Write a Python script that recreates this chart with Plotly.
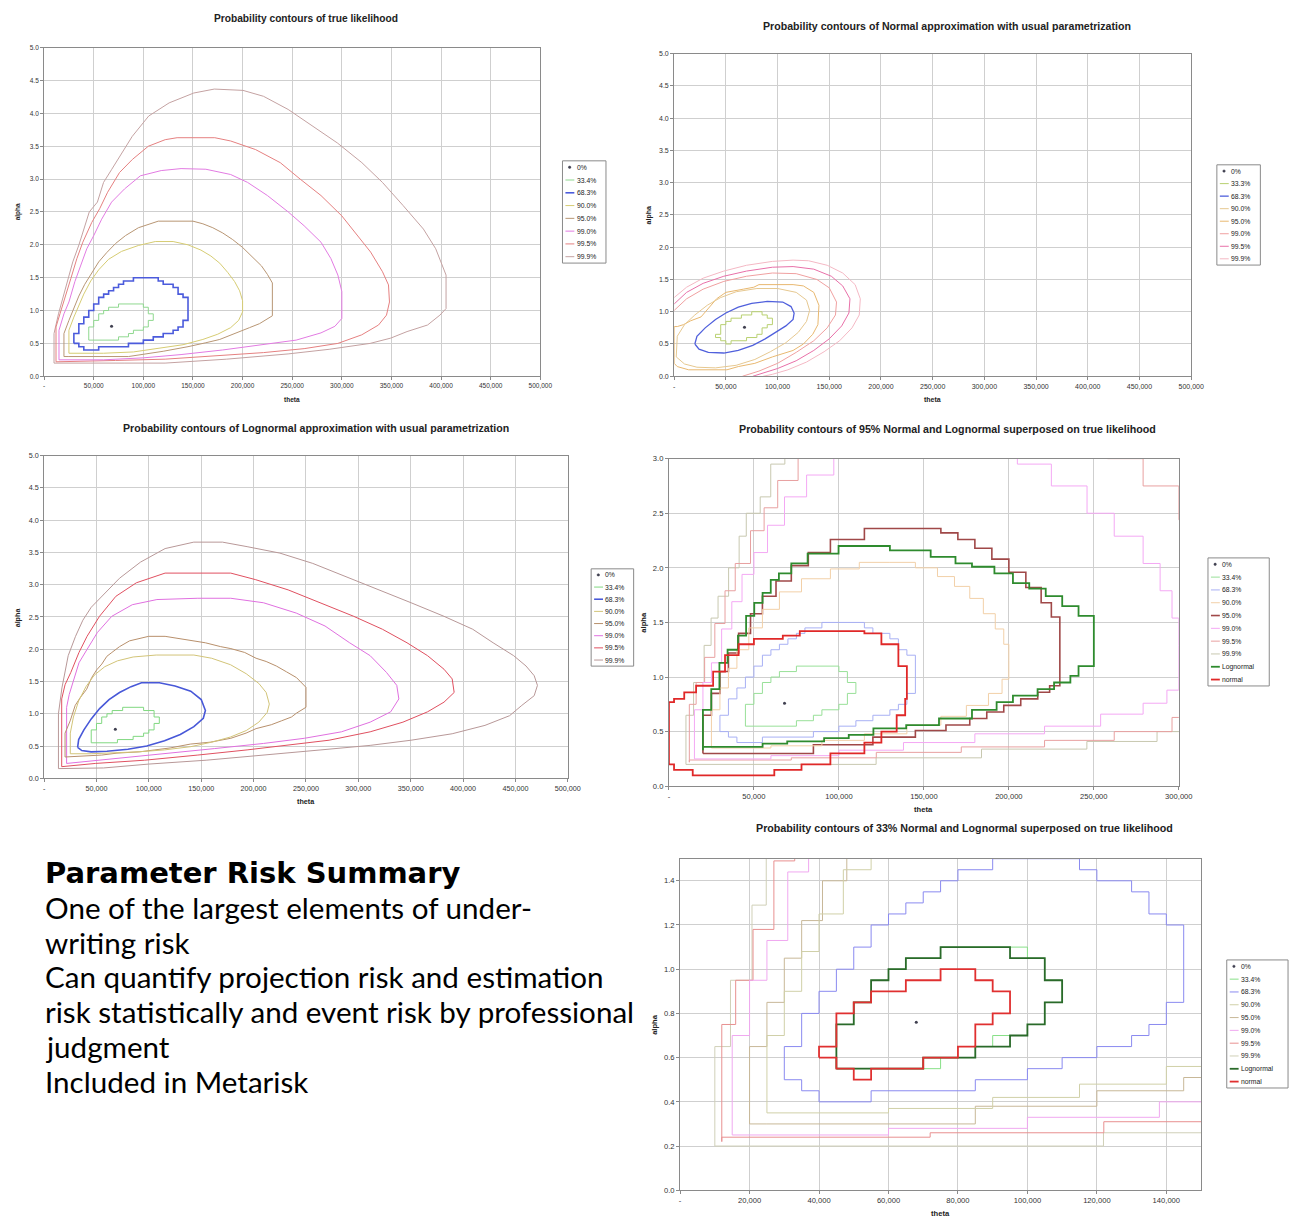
import plotly.graph_objects as go

W, H = 1306, 1228

# ---------------------------------------------------------------- data
LEVELS_TRUE = ["0%", "33.4%", "68.3%", "90.0%", "95.0%", "99.0%", "99.5%", "99.9%"]
LEVELS_NORM = ["0%", "33.3%", "68.3%", "90.0%", "95.0%", "99.0%", "99.5%", "99.9%"]
LEVELS_LOGN = ["0%", "33.4%", "68.3%", "90.0%", "95.0%", "99.0%", "99.5%", "99.9%"]
EXTRA_SERIES = ["Lognormal", "normal"]

MODE_THETA_K = [68]
MODE_ALPHA = [0.76]

# true likelihood contours (theta in thousands, alpha)
TRUE_334_THETA_K = [45, 45, 50, 50, 55, 55, 60, 60, 65, 65, 75, 75, 100, 100, 105, 105, 110, 110, 105, 105, 100, 100, 90, 90, 85, 85, 75, 75, 45]
TRUE_334_ALPHA = [0.55, 0.75, 0.75, 0.85, 0.85, 0.95, 0.95, 1.00, 1.00, 1.05, 1.05, 1.10, 1.10, 1.05, 1.05, 0.95, 0.95, 0.85, 0.85, 0.75, 0.75, 0.70, 0.70, 0.65, 0.65, 0.60, 0.60, 0.55, 0.55]

TRUE_683_THETA_K = [30, 30, 35, 35, 40, 40, 45, 45, 50, 50, 55, 55, 60, 60, 65, 65, 70, 70, 75, 75, 80, 80, 90, 90, 115, 115, 120, 120, 130, 130, 135, 135, 140, 140, 145, 145, 140, 140, 135, 135, 130, 130, 120, 120, 110, 110, 100, 100, 85, 85, 55, 55, 40, 40, 35, 35, 30]
TRUE_683_ALPHA = [0.50, 0.65, 0.65, 0.80, 0.80, 0.90, 0.90, 1.00, 1.00, 1.10, 1.10, 1.20, 1.20, 1.25, 1.25, 1.30, 1.30, 1.35, 1.35, 1.40, 1.40, 1.45, 1.45, 1.50, 1.50, 1.45, 1.45, 1.40, 1.40, 1.35, 1.35, 1.25, 1.25, 1.20, 1.20, 0.85, 0.85, 0.75, 0.75, 0.70, 0.70, 0.65, 0.65, 0.60, 0.60, 0.55, 0.55, 0.50, 0.50, 0.45, 0.45, 0.40, 0.40, 0.45, 0.45, 0.50, 0.50]

TRUE_90_THETA_K = [25, 25, 30, 35, 40, 47, 55, 65, 78, 95, 112, 130, 145, 158, 168, 177, 185, 192, 197, 200, 200, 196, 188, 175, 160, 140, 115, 90, 60, 25]
TRUE_90_ALPHA = [0.35, 0.70, 0.90, 1.08, 1.25, 1.45, 1.62, 1.78, 1.90, 1.99, 2.05, 2.05, 2.00, 1.92, 1.83, 1.72, 1.58, 1.44, 1.30, 1.15, 0.98, 0.85, 0.74, 0.64, 0.56, 0.48, 0.42, 0.37, 0.35, 0.35]

TRUE_95_THETA_K = [20, 20, 25, 30, 35, 41, 48, 55, 63, 72, 82, 95, 115, 150, 160, 170, 180, 190, 200, 210, 219, 225, 230, 230, 224, 217, 207, 197, 187, 177, 163, 145, 120, 85, 25, 20]
TRUE_95_ALPHA = [0.30, 0.65, 0.85, 1.05, 1.22, 1.40, 1.58, 1.74, 1.88, 2.02, 2.14, 2.26, 2.36, 2.36, 2.32, 2.26, 2.18, 2.08, 1.96, 1.82, 1.68, 1.55, 1.42, 0.92, 0.86, 0.80, 0.74, 0.68, 0.62, 0.56, 0.51, 0.45, 0.38, 0.30, 0.30, 0.30]

TRUE_99_THETA_K = [15, 15, 20, 25, 31, 37, 43, 50, 58, 68, 81, 97, 118, 138, 163, 188, 205, 225, 246, 262, 279, 289, 296, 300, 300, 293, 279, 254, 221, 180, 138, 100, 60, 15]
TRUE_99_ALPHA = [0.25, 0.70, 0.95, 1.13, 1.44, 1.69, 1.94, 2.14, 2.39, 2.65, 2.85, 3.05, 3.13, 3.16, 3.15, 3.07, 2.95, 2.75, 2.50, 2.29, 2.04, 1.79, 1.54, 1.29, 0.88, 0.76, 0.66, 0.55, 0.48, 0.40, 0.33, 0.28, 0.25, 0.25]

TRUE_995_THETA_K = [12, 12, 16, 21, 27, 33, 39, 48, 56, 64, 76, 89, 105, 122, 134, 172, 188, 213, 238, 258, 279, 300, 316, 329, 341, 347, 348, 345, 337, 320, 296, 262, 221, 172, 122, 72, 12]
TRUE_995_ALPHA = [0.22, 0.75, 0.95, 1.18, 1.49, 1.79, 2.04, 2.34, 2.55, 2.80, 3.10, 3.30, 3.50, 3.60, 3.63, 3.63, 3.58, 3.45, 3.25, 3.00, 2.75, 2.44, 2.14, 1.89, 1.59, 1.39, 1.13, 0.93, 0.78, 0.63, 0.50, 0.42, 0.36, 0.31, 0.26, 0.24, 0.22]

TRUE_999_THETA_K = [10, 10, 14.5, 20.7, 24.8, 28.9, 35.1, 41.3, 45.5, 53.7, 59.9, 68.2, 76.4, 88.8, 105.4, 126, 150.8, 171.5, 200.4, 221.1, 245.9, 270.7, 295.5, 320.2, 340.9, 361.6, 382.2, 394.6, 402.9, 405, 405, 398.8, 386.4, 365.7, 349.2, 328.5, 287.2, 245.9, 183.9, 121.9, 80.6, 10]
TRUE_999_ALPHA = [0.20, 0.65, 0.95, 1.29, 1.54, 1.74, 2.00, 2.29, 2.50, 2.65, 2.95, 3.15, 3.35, 3.65, 3.96, 4.16, 4.31, 4.37, 4.35, 4.26, 4.06, 3.80, 3.55, 3.25, 2.95, 2.60, 2.24, 1.94, 1.64, 1.54, 1.03, 0.93, 0.78, 0.68, 0.58, 0.50, 0.41, 0.34, 0.26, 0.20, 0.20, 0.20]

# Normal approximation contours
NORM_333_THETA_K = [40, 40, 45, 45, 50, 50, 55, 55, 65, 65, 75, 75, 85, 85, 90, 90, 95, 95, 90, 90, 85, 85, 80, 80, 70, 70, 55, 55, 50, 50, 45, 45, 40]
NORM_333_ALPHA = [0.60, 0.65, 0.65, 0.80, 0.80, 0.85, 0.85, 0.90, 0.90, 0.95, 0.95, 1.00, 1.00, 0.95, 0.95, 0.90, 0.90, 0.80, 0.80, 0.75, 0.75, 0.65, 0.65, 0.60, 0.60, 0.55, 0.55, 0.50, 0.50, 0.55, 0.55, 0.60, 0.60]

NORM_683_THETA_K = [20, 22, 30, 40, 50, 62, 75, 90, 105, 113, 116, 115, 108, 98, 88, 76, 62, 48, 33, 24, 20]
NORM_683_ALPHA = [0.50, 0.62, 0.75, 0.88, 0.98, 1.07, 1.13, 1.16, 1.15, 1.08, 0.98, 0.88, 0.78, 0.68, 0.58, 0.48, 0.40, 0.36, 0.37, 0.42, 0.50]

NORM_90_THETA_K = [2, 3, 10, 20, 32, 45, 60, 80, 100, 118, 128, 131, 128, 120, 108, 93, 78, 60, 40, 22, 10, 2]
NORM_90_ALPHA = [0.30, 0.62, 0.80, 0.95, 1.10, 1.22, 1.31, 1.36, 1.36, 1.30, 1.18, 1.02, 0.85, 0.68, 0.52, 0.38, 0.26, 0.17, 0.13, 0.14, 0.19, 0.30]

NORM_95_THETA_K = [0, 0, 3, 14, 51, 62, 78, 95, 115, 125, 134, 139, 140, 135, 125, 115, 82, 77, 67, 50, 41, 33, 26, 16, 9, 3, 0]
NORM_95_ALPHA = [0.77, 0.20, 0.15, 0.10, 0.10, 0.15, 0.20, 0.30, 0.40, 0.50, 0.65, 0.80, 1.10, 1.30, 1.40, 1.42, 1.42, 1.38, 1.35, 1.30, 1.20, 1.05, 0.92, 0.86, 0.80, 0.77, 0.77]

NORM_99_THETA_K = [0, 12, 28, 48, 70, 95, 118, 138, 150, 157, 156, 148, 135, 118, 100, 82, 66]
NORM_99_ALPHA = [1.02, 1.20, 1.35, 1.47, 1.55, 1.60, 1.59, 1.50, 1.37, 1.15, 0.95, 0.75, 0.55, 0.37, 0.20, 0.08, 0.00]

NORM_995_THETA_K = [0, 12, 28, 48, 70, 95, 115, 135, 152, 163, 170, 169, 162, 150, 135, 118, 100, 85, 76]
NORM_995_ALPHA = [1.12, 1.30, 1.44, 1.55, 1.63, 1.69, 1.70, 1.66, 1.55, 1.40, 1.20, 0.98, 0.78, 0.58, 0.40, 0.24, 0.12, 0.04, 0.00]

NORM_999_THETA_K = [0, 12, 28, 48, 70, 95, 115, 130, 148, 163, 175, 180, 179, 172, 160, 145, 128, 110, 95, 86]
NORM_999_ALPHA = [1.22, 1.38, 1.52, 1.63, 1.72, 1.78, 1.80, 1.79, 1.72, 1.60, 1.42, 1.20, 0.95, 0.75, 0.55, 0.38, 0.22, 0.10, 0.03, 0.00]

# Lognormal approximation contours
LOGN_334_THETA_K = [45, 45, 50, 50, 55, 55, 60, 60, 65, 65, 75, 75, 95, 95, 105, 105, 110, 110, 105, 105, 100, 100, 95, 95, 85, 85, 70, 70, 45]
LOGN_334_ALPHA = [0.55, 0.75, 0.75, 0.85, 0.85, 0.95, 0.95, 1.00, 1.00, 1.05, 1.05, 1.10, 1.10, 1.05, 1.05, 0.95, 0.95, 0.85, 0.85, 0.75, 0.75, 0.70, 0.70, 0.65, 0.65, 0.60, 0.60, 0.55, 0.55]

LOGN_683_THETA_K = [32, 33, 38, 45, 53, 62, 72, 83, 93, 110, 125, 140, 150, 154, 152, 143, 130, 115, 98, 80, 60, 45, 36, 32]
LOGN_683_ALPHA = [0.48, 0.60, 0.75, 0.92, 1.08, 1.22, 1.33, 1.42, 1.48, 1.48, 1.43, 1.35, 1.22, 1.05, 0.93, 0.80, 0.68, 0.58, 0.50, 0.45, 0.42, 0.41, 0.43, 0.48]

LOGN_90_THETA_K = [25, 25, 28, 33, 40, 48, 58, 70, 85, 107, 143, 160, 178, 193, 205, 212, 215, 213, 205, 193, 178, 160, 140, 115, 90, 65, 45, 25]
LOGN_90_ALPHA = [0.38, 0.70, 0.95, 1.20, 1.42, 1.60, 1.73, 1.82, 1.88, 1.91, 1.91, 1.86, 1.76, 1.62, 1.47, 1.33, 1.15, 1.02, 0.87, 0.74, 0.64, 0.56, 0.49, 0.44, 0.41, 0.39, 0.38, 0.38]

LOGN_95_THETA_K = [20, 20, 24.9, 29.7, 34.5, 40.6, 45.4, 50.2, 55.1, 59.9, 64.7, 72, 81.6, 99.8, 115.5, 130, 154, 168.6, 178.3, 191.5, 202.4, 212, 221.7, 231.4, 241, 250, 250, 241, 236.2, 226.6, 216.9, 202.4, 192.8, 178.3, 158.9, 139.6, 120.3, 105.8, 91.3, 69.6, 55.1, 20]
LOGN_95_ALPHA = [0.33, 0.70, 0.89, 1.13, 1.25, 1.38, 1.56, 1.68, 1.77, 1.89, 1.95, 2.04, 2.13, 2.20, 2.20, 2.16, 2.10, 2.04, 2.01, 1.95, 1.86, 1.81, 1.74, 1.65, 1.56, 1.41, 1.10, 1.01, 0.95, 0.89, 0.83, 0.77, 0.70, 0.62, 0.56, 0.53, 0.47, 0.44, 0.41, 0.39, 0.36, 0.33]

LOGN_99_THETA_K = [21.5, 21.5, 24, 27.4, 33.3, 41.1, 50.9, 64.6, 84.2, 107.7, 146.8, 178.2, 209.5, 240.8, 268.2, 291.7, 311.3, 326.9, 336.7, 338.7, 330.9, 311.3, 283.9, 248.6, 209.5, 162.5, 115.5, 68.5, 21.5]
LOGN_99_ALPHA = [0.23, 1.10, 1.30, 1.49, 1.79, 2.00, 2.26, 2.51, 2.69, 2.77, 2.79, 2.79, 2.72, 2.56, 2.36, 2.10, 1.90, 1.64, 1.44, 1.23, 1.03, 0.87, 0.72, 0.62, 0.54, 0.46, 0.38, 0.31, 0.23]

LOGN_995_THETA_K = [16.8, 16.8, 20, 25.5, 33.3, 41, 52.9, 68.5, 88.1, 107.7, 115.5, 178.2, 201.6, 233, 264.3, 295.6, 323, 346.5, 366.1, 381.8, 389.6, 391.5, 381.8, 366.1, 342.6, 311.3, 272.1, 233, 193.8, 146.8, 95.9, 48.9, 16.8]
LOGN_995_ALPHA = [0.18, 1.23, 1.45, 1.64, 1.95, 2.20, 2.51, 2.82, 3.03, 3.13, 3.18, 3.18, 3.08, 2.92, 2.72, 2.51, 2.31, 2.10, 1.90, 1.69, 1.54, 1.33, 1.18, 1.03, 0.87, 0.72, 0.59, 0.51, 0.44, 0.36, 0.28, 0.23, 0.18]

LOGN_999_THETA_K = [13.7, 13.7, 17, 23, 30, 37, 45, 57, 72, 92, 115.5, 142.9, 170.3, 193.8, 225.1, 256.5, 287.8, 319.1, 350.4, 381.8, 409.2, 428.7, 448.3, 460.1, 467.9, 471, 467.9, 456.1, 444.4, 420.9, 389.6, 350.4, 311.3, 264.3, 209.5, 154.7, 99.8, 56.8, 13.7]
LOGN_999_ALPHA = [0.15, 1.00, 1.40, 1.90, 2.20, 2.45, 2.65, 2.85, 3.10, 3.35, 3.56, 3.66, 3.66, 3.59, 3.49, 3.33, 3.13, 2.92, 2.72, 2.51, 2.31, 2.10, 1.90, 1.74, 1.59, 1.44, 1.28, 1.13, 0.97, 0.82, 0.69, 0.59, 0.51, 0.44, 0.36, 0.28, 0.22, 0.16, 0.15]

# tick labels
X_TICKS_500K = [0, 50000, 100000, 150000, 200000, 250000, 300000, 350000, 400000, 450000, 500000]
X_TICKS_300K = [0, 50000, 100000, 150000, 200000, 250000, 300000]
X_TICKS_150K = [0, 20000, 40000, 60000, 80000, 100000, 120000, 140000]
Y_TICKS_5 = [0.0, 0.5, 1.0, 1.5, 2.0, 2.5, 3.0, 3.5, 4.0, 4.5, 5.0]
Y_TICKS_3 = [0.0, 0.5, 1.0, 1.5, 2.0, 2.5, 3.0]
Y_TICKS_15 = [0.0, 0.2, 0.4, 0.6, 0.8, 1.0, 1.2, 1.4]

TITLES = [
    "Probability contours of true likelihood",
    "Probability contours of Normal approximation with usual parametrization",
    "Probability contours of Lognormal approximation with usual parametrization",
    "Probability contours of 95% Normal and Lognormal superposed on true likelihood",
    "Probability contours of 33% Normal and Lognormal superposed on true likelihood",
]
SUMMARY_HEAD = "Parameter Risk Summary"
SUMMARY_LINES = [
    "One of the largest elements of under-",
    "writing risk",
    "Can quantify projection risk and estimation",
    "risk statistically and event risk by professional",
    "judgment",
    "Included in Metarisk",
]

TRUE_SETS = [(TRUE_334_THETA_K, TRUE_334_ALPHA), (TRUE_683_THETA_K, TRUE_683_ALPHA),
             (TRUE_90_THETA_K, TRUE_90_ALPHA), (TRUE_95_THETA_K, TRUE_95_ALPHA),
             (TRUE_99_THETA_K, TRUE_99_ALPHA), (TRUE_995_THETA_K, TRUE_995_ALPHA),
             (TRUE_999_THETA_K, TRUE_999_ALPHA)]
NORM_SETS = [(NORM_333_THETA_K, NORM_333_ALPHA), (NORM_683_THETA_K, NORM_683_ALPHA),
             (NORM_90_THETA_K, NORM_90_ALPHA), (NORM_95_THETA_K, NORM_95_ALPHA),
             (NORM_99_THETA_K, NORM_99_ALPHA), (NORM_995_THETA_K, NORM_995_ALPHA),
             (NORM_999_THETA_K, NORM_999_ALPHA)]
LOGN_SETS = [(LOGN_334_THETA_K, LOGN_334_ALPHA), (LOGN_683_THETA_K, LOGN_683_ALPHA),
             (LOGN_90_THETA_K, LOGN_90_ALPHA), (LOGN_95_THETA_K, LOGN_95_ALPHA),
             (LOGN_99_THETA_K, LOGN_99_ALPHA), (LOGN_995_THETA_K, LOGN_995_ALPHA),
             (LOGN_999_THETA_K, LOGN_999_ALPHA)]

# ---------------------------------------------------------------- styles
COL_P1 = ["#8fd88f", "#4b5bdc", "#d6cc73", "#b89674", "#e27be2", "#e58080", "#c4a2a2"]
COL_P2 = ["#b8d070", "#5060dc", "#e6c890", "#e8b870", "#f0a0a0", "#e870a8", "#f4b8c4"]
COL_P3 = ["#80d880", "#4858d8", "#d2c478", "#b8906c", "#e070e0", "#e05060", "#b89898"]
COL_P4 = ["#98e098", "#a8b0f4", "#f2d0a8", "#a04848", "#f4a8f4", "#e8a0a0", "#c8c8b0"]
COL_P5 = ["#88e088", "#8a8af0", "#d0d0a8", "#c8b898", "#f0a8f0", "#e89090", "#d0d0b8"]
WID_P1 = [1, 1.6, 1, 1, 1, 1, 1]
WID_P2 = [1, 1.3, 1, 1, 1, 1, 1]
WID_P3 = [1, 1.6, 1, 1, 1, 1, 1]
WID_P4 = [1, 1, 1, 1.6, 1, 1, 1]
WID_P5 = [1, 1, 1, 1, 1, 1, 1]
COL_LOGN_HL = ["#2e8b2e", "#2a6a2a"]
COL_NORM_HL = ["#e02828", "#e03030"]
MODE_COL = "#404050"

FONT = "Liberation Sans, Arial, sans-serif"
GRID = "#cfcfcf"
AXLINE = "#8a8a8a"

# panel geometry in page pixels
PANELS = {
    1: dict(px=(43.6, 545.6), py=(44, 375), xr=(0, 500000), yr=(0, 5), xt=X_TICKS_500K, yt=Y_TICKS_5, fs=6.5),
    2: dict(px=(681, 1204), py=(50, 375), xr=(0, 500000), yr=(0, 5), xt=X_TICKS_500K, yt=Y_TICKS_5, fs=7),
    3: dict(px=(43.6, 573.4), py=(455, 780), xr=(0, 500000), yr=(0, 5), xt=X_TICKS_500K, yt=Y_TICKS_5, fs=7.2),
    4: dict(px=(675.7, 1191.5), py=(458, 788), xr=(0, 300000), yr=(0, 3), xt=X_TICKS_300K, yt=Y_TICKS_3, fs=7.6),
    5: dict(px=(687, 1214), py=(861, 1195), xr=(0, 150000), yr=(0, 1.5), xt=X_TICKS_150K, yt=Y_TICKS_15, fs=7.6),
}

fig = go.Figure()


def fx(x):
    return x / W


def fy(y):
    return 1 - y / H


def axis_names(i):
    return ("x" if i == 1 else f"x{i}"), ("y" if i == 1 else f"y{i}")


for i, p in PANELS.items():
    xn, yn = axis_names(i)
    xa = "xaxis" if i == 1 else f"xaxis{i}"
    ya = "yaxis" if i == 1 else f"yaxis{i}"
    tickfont = dict(family=FONT, size=p["fs"], color="#333333")
    fig.update_layout(**{
        xa: dict(domain=[fx(p["px"][0]), fx(p["px"][1])], range=list(p["xr"]), anchor=yn,
                 tickvals=p["xt"], ticktext=["-" if v == 0 else f"{v:,}" for v in p["xt"]],
                 showgrid=True, gridcolor=GRID, gridwidth=1, zeroline=False,
                 showline=True, linecolor=AXLINE, linewidth=1, mirror=True,
                 ticks="outside", ticklen=3, tickcolor=AXLINE, tickfont=tickfont, fixedrange=True),
        ya: dict(domain=[fy(p["py"][1]), fy(p["py"][0])], range=list(p["yr"]), anchor=xn,
                 tickvals=p["yt"], ticktext=[f"{v:.1f}" for v in p["yt"]],
                 showgrid=True, gridcolor=GRID, gridwidth=1, zeroline=False,
                 showline=True, linecolor=AXLINE, linewidth=1, mirror=True,
                 ticks="outside", ticklen=3, tickcolor=AXLINE, tickfont=tickfont, fixedrange=True),
    })


def add_contours(i, sets, colors, widths, shape):
    xn, yn = axis_names(i)
    for (th, al), c, w in zip(sets, colors, widths):
        fig.add_trace(go.Scatter(x=[t * 1000 for t in th], y=al, mode="lines",
                                 line=dict(color=c, width=w, shape=shape),
                                 xaxis=xn, yaxis=yn, showlegend=False, hoverinfo="skip"))


def add_mode(i):
    xn, yn = axis_names(i)
    fig.add_trace(go.Scatter(x=[t * 1000 for t in MODE_THETA_K], y=MODE_ALPHA, mode="markers",
                             marker=dict(color=MODE_COL, size=3, symbol="circle"),
                             xaxis=xn, yaxis=yn, showlegend=False, hoverinfo="skip"))


# panel 1: true likelihood
add_contours(1, TRUE_SETS[::-1], COL_P1[::-1], WID_P1[::-1], "linear")
add_mode(1)
# panel 2: normal approximation
add_contours(2, NORM_SETS[::-1], COL_P2[::-1], WID_P2[::-1], "linear")
add_mode(2)
# panel 3: lognormal approximation
add_contours(3, LOGN_SETS[::-1], COL_P3[::-1], WID_P3[::-1], "linear")
add_mode(3)
# panel 4: 95% normal / lognormal over true likelihood
add_contours(4, TRUE_SETS[::-1], COL_P4[::-1], WID_P4[::-1], "hv")
add_mode(4)
add_contours(4, [LOGN_SETS[3]], [COL_LOGN_HL[0]], [1.8], "hv")
add_contours(4, [NORM_SETS[3]], [COL_NORM_HL[0]], [1.8], "hv")
# panel 5: 33% normal / lognormal over true likelihood
add_contours(5, TRUE_SETS[::-1], COL_P5[::-1], WID_P5[::-1], "hv")
add_mode(5)
add_contours(5, [LOGN_SETS[0]], [COL_LOGN_HL[1]], [1.8], "hv")
add_contours(5, [NORM_SETS[0]], [COL_NORM_HL[1]], [1.8], "hv")

shapes = []
annotations = []


def text(x, y, s, size=7, bold=False, anchor="center", angle=0, family=FONT, color="#222222"):
    annotations.append(dict(x=fx(x), y=fy(y), xref="paper", yref="paper",
                            text=f"<b>{s}</b>" if bold else s, showarrow=False,
                            xanchor=anchor, yanchor="middle", textangle=angle, borderpad=0,
                            font=dict(family=family, size=size, color=color)))


def legend(x0, y0, x1, y1, labels, colors, widths):
    shapes.append(dict(type="rect", xref="paper", yref="paper", x0=fx(x0), x1=fx(x1), y0=fy(y1), y1=fy(y0),
                       line=dict(color="#8a8a8a", width=1), fillcolor="white", layer="above"))
    n = len(labels)
    h = (y1 - y0) / n
    for k, (lab, c, w) in enumerate(zip(labels, colors, widths)):
        yc = y0 + h * (k + 0.5)
        if k == 0:
            shapes.append(dict(type="circle", xref="paper", yref="paper",
                               x0=fx(x0 + 6), x1=fx(x0 + 8.5), y0=fy(yc + 1.2), y1=fy(yc - 1.2),
                               line=dict(color=c, width=0.5), fillcolor=c, layer="above"))
        else:
            shapes.append(dict(type="line", xref="paper", yref="paper",
                               x0=fx(x0 + 3), x1=fx(x0 + 12), y0=fy(yc), y1=fy(yc),
                               line=dict(color=c, width=w), layer="above"))
        text(x0 + 13.5, yc, lab, size=6.8, anchor="left")


legend(568, 158, 612, 261, LEVELS_TRUE, [MODE_COL] + COL_P1, [1] + WID_P1)
legend(1230, 162, 1274, 263, LEVELS_NORM, [MODE_COL] + COL_P2, [1] + WID_P2)
legend(597, 569, 640, 667, LEVELS_LOGN, [MODE_COL] + COL_P3, [1] + WID_P3)
legend(1221, 558, 1283, 687, LEVELS_TRUE + EXTRA_SERIES,
       [MODE_COL] + COL_P4 + [COL_LOGN_HL[0], COL_NORM_HL[0]], [1] + WID_P4 + [1.8, 1.8])
legend(1240, 963, 1302, 1092, LEVELS_TRUE + EXTRA_SERIES,
       [MODE_COL] + COL_P5 + [COL_LOGN_HL[1], COL_NORM_HL[1]], [1] + WID_P5 + [1.8, 1.8])

# titles
text(309, 15, TITLES[0], size=10.2, bold=True)
text(957, 22, TITLES[1], size=10.6, bold=True)
text(319, 427, TITLES[2], size=10.6, bold=True)
text(957, 428, TITLES[3], size=10.7, bold=True)
text(975, 830, TITLES[4], size=10.7, bold=True)

# axis titles
for i, p in PANELS.items():
    xc = (p["px"][0] + p["px"][1]) / 2
    text(xc, p["py"][1] + 23, "theta", size=p["fs"], bold=True)
    text(p["px"][0] - 26, (p["py"][0] + p["py"][1]) / 2, "alpha", size=p["fs"], bold=True, angle=-90)

# summary text block
text(43, 875, SUMMARY_HEAD, size=29, bold=True, anchor="left", family="DejaVu Sans, sans-serif", color="#000000")
for k, line in enumerate(SUMMARY_LINES):
    text(43, 910 + 35 * k, line, size=29.6, anchor="left", family="Lato, sans-serif", color="#000000")

fig.update_layout(width=W, height=H, margin=dict(l=0, r=0, t=0, b=0), autosize=False,
                  paper_bgcolor="white", plot_bgcolor="white",
                  shapes=shapes, annotations=annotations, showlegend=False)

fig.write_html("out.html", config={"displayModeBar": False},
               post_script="document.body.style.margin='0px';document.body.style.padding='0px';"
                           "document.documentElement.style.overflow='hidden';")
